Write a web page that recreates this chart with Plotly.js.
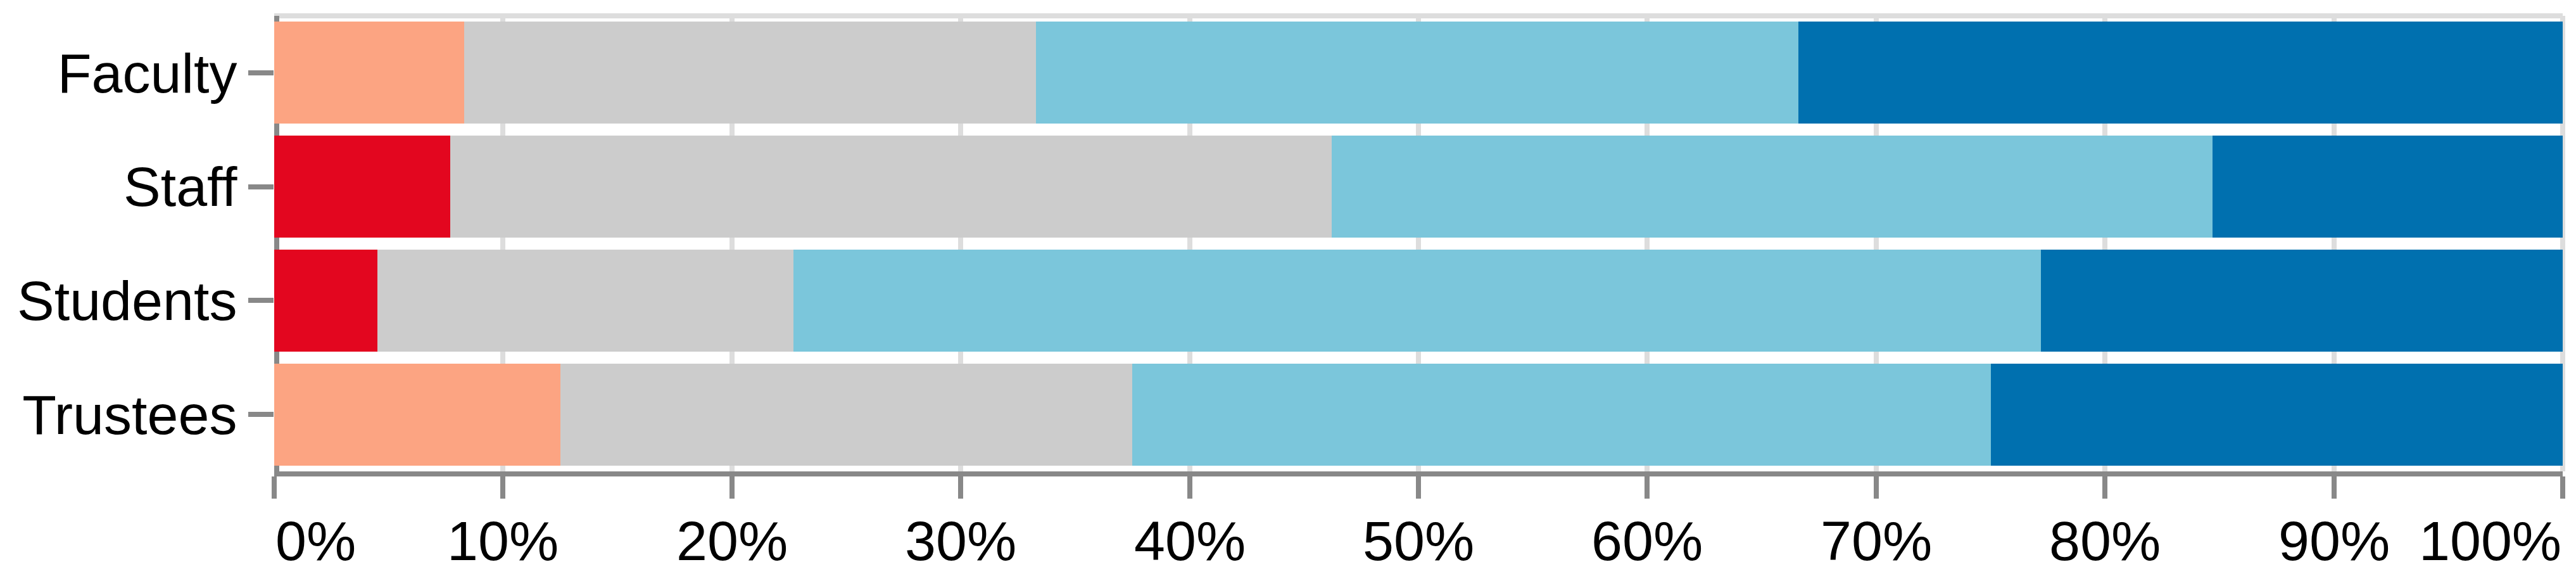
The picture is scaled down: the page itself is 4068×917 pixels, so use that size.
<!DOCTYPE html>
<html>
<head>
<meta charset="utf-8">
<script src="https://cdn.plot.ly/plotly-3.0.1.min.js"></script>
<style>
  html, body { margin: 0; padding: 0; background: #fff; }
  #chart { width: 4068px; height: 917px; }
</style>
</head>
<body>
<div id="chart"></div>
<script>
// groups, top to bottom
const groups = ['Faculty', 'Staff', 'Students', 'Trustees'];

// share of answers per group (percent)
const stronglyDisagree = [0, 7.7, 4.5, 0];
const disagree = [8.3, 0, 0, 12.5];
const neutral = [25.0, 38.5, 18.2, 25.0];
const agree = [33.3, 38.5, 54.5, 37.5];
const stronglyAgree = [33.4, 15.3, 22.8, 25.0];

const seriesNames = ['Strongly disagree', 'Disagree', 'Neutral', 'Agree', 'Strongly agree'];
const seriesColors = ['#e3061f', '#fca482', '#cccccc', '#7bc6db', '#0070af'];

const tickValues = [0, 10, 20, 30, 40, 50, 60, 70, 80, 90, 100];
const tickLabels = ['0%', '10%', '20%', '30%', '40%', '50%', '60%', '70%', '80%', '90%', '100%'];

const font = 'Liberation Sans, Arial, Helvetica, sans-serif';

window.addEventListener('DOMContentLoaded', () => {
  const values = [stronglyDisagree, disagree, neutral, agree, stronglyAgree];
  const traces = values.map((v, i) => ({
    type: 'bar',
    orientation: 'h',
    name: seriesNames[i],
    x: v,
    y: groups,
    marker: { color: seriesColors[i], line: { width: 0 } },
    hovertemplate: '%{y}<br>' + seriesNames[i] + ': %{x}%<extra></extra>'
  }));

  // x tick labels: first flush left, last flush right
  const labels = tickValues.map((t, i) => ({
    xref: 'x', yref: 'paper',
    x: t, y: 0,
    yanchor: 'top', yshift: -58,
    xanchor: i === 0 ? 'left' : (i === tickValues.length - 1 ? 'right' : 'center'),
    text: tickLabels[i],
    showarrow: false,
    font: { family: font, size: 88, color: '#000' }
  }));

  const layout = {
    width: 4068,
    height: 917,
    margin: { l: 433, r: 21, t: 25, b: 173, pad: 0 },
    barmode: 'stack',
    bargap: 0.105,
    showlegend: false,
    paper_bgcolor: '#fff',
    plot_bgcolor: '#fff',
    font: { family: font, size: 88, color: '#000' },
    xaxis: {
      range: [0, 100],
      tickvals: tickValues,
      showticklabels: false,
      ticks: 'outside',
      ticklen: 35,
      tickwidth: 8,
      tickcolor: '#888',
      showline: true,
      linecolor: '#888',
      linewidth: 8,
      showgrid: true,
      gridcolor: '#dddddd',
      gridwidth: 8,
      zeroline: false,
      layer: 'below traces',
      fixedrange: true
    },
    yaxis: {
      type: 'category',
      autorange: 'reversed',
      ticks: 'outside',
      ticklen: 40,
      tickwidth: 8,
      tickcolor: '#888',
      showline: false,
      showgrid: false,
      zeroline: false,
      tickfont: { family: font, size: 88, color: '#000' },
      layer: 'below traces',
      fixedrange: true
    },
    shapes: [
      // light frame on top and right
      { type: 'line', xref: 'paper', yref: 'paper', x0: 0, x1: 1, y0: 1, y1: 1,
        line: { color: '#dddddd', width: 8 }, layer: 'below' },
      { type: 'line', xref: 'paper', yref: 'paper', x0: 1, x1: 1, y0: 0, y1: 1,
        line: { color: '#dddddd', width: 8 }, layer: 'below' },
      // dark domain line on the left, inside the plot, under the bars
      { type: 'rect', xref: 'x', xsizemode: 'pixel', xanchor: 0, x0: 0, x1: 8,
        yref: 'paper', y0: 0, y1: 1,
        fillcolor: '#888', line: { width: 0 }, layer: 'below' }
    ],
    annotations: labels
  };

  Plotly.newPlot('chart', traces, layout, { displayModeBar: false, staticPlot: true });
});
</script>
</body>
</html>
